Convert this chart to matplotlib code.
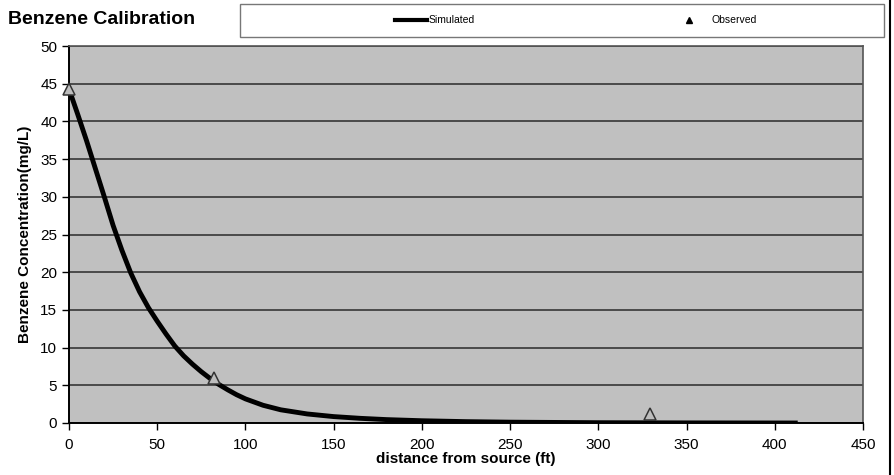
import matplotlib
matplotlib.use("Agg")
import matplotlib.pyplot as plt
from matplotlib.lines import Line2D
from matplotlib.patches import Rectangle

plt.rcParams['font.family'] = ['Liberation Sans', 'DejaVu Sans']

# Simulated benzene profile along the plume centreline
sim_distance = [0, 5, 10, 15, 20, 25, 30, 35, 40, 45, 50, 55, 60, 65, 70, 75, 80, 85, 90,
                95, 100, 110, 120, 135, 150, 165, 180, 200, 225, 250, 300, 350, 413]
sim_conc = [44.3, 40.9, 37.4, 33.7, 30.0, 26.2, 22.9, 19.9, 17.4, 15.3, 13.5, 11.8, 10.2,
            8.9, 7.8, 6.8, 5.9, 5.1, 4.4, 3.75, 3.2, 2.35, 1.75, 1.2, 0.85, 0.62, 0.45, 0.3,
            0.18, 0.11, 0.04, 0.015, 0.0]

# Observed well concentrations
obs_distance = [0, 82, 329]
obs_conc = [44.3, 6.0, 1.2]

x_ticks = [0, 50, 100, 150, 200, 250, 300, 350, 400, 450]
y_ticks = [0, 5, 10, 15, 20, 25, 30, 35, 40, 45, 50]

fig = plt.figure(figsize=(8.95, 4.75), dpi=100)
ax = fig.add_axes([69 / 895, 1 - 423 / 475, (863 - 69) / 895, (423 - 46) / 475])

ax.set_facecolor('#c0c0c0')
ax.set_xlim(0, 450)
ax.set_ylim(0, 50)
ax.set_xticks(x_ticks)
ax.set_yticks(y_ticks)
ax.yaxis.grid(True, color='#4a4a4a', linewidth=1.4)
ax.set_axisbelow(True)

for side in ['top', 'right']:
    ax.spines[side].set_color('#555555')
    ax.spines[side].set_linewidth(1.2)
for side in ['left', 'bottom']:
    ax.spines[side].set_color('black')
    ax.spines[side].set_linewidth(1.4)

ax.tick_params(axis='both', direction='out', length=5, width=1, labelsize=11, colors='black')
ax.tick_params(axis='x', pad=6)

ax.plot(sim_distance, sim_conc, color='black', linewidth=3.5, solid_capstyle='butt',
        solid_joinstyle='round', zorder=3)
ax.plot(obs_distance, obs_conc, linestyle='none', marker='^', markersize=8,
        markerfacecolor='#bdbdbd', markeredgecolor='#333333', markeredgewidth=1.1,
        zorder=4, clip_on=False)

ax.set_xlabel('distance from source (ft)', fontsize=11, fontweight='bold', labelpad=0)
ax.set_ylabel('Benzene Concentration(mg/L)', fontsize=11, fontweight='bold', labelpad=6)

fig.text(8 / 895, 1 - 19 / 475, 'Benzene Calibration', fontsize=14, fontweight='bold',
         ha='left', va='center')

# Legend frame and entries
fig.patches.append(Rectangle((240 / 895, 1 - 37 / 475), (884 - 240) / 895, 33 / 475,
                             transform=fig.transFigure, facecolor='white',
                             edgecolor='#777777', linewidth=1.0))
fig.lines.append(Line2D([395 / 895, 427 / 895], [1 - 20 / 475] * 2, transform=fig.transFigure,
                        color='black', linewidth=3))
fig.text(429 / 895, 1 - 20 / 475, 'Simulated', fontsize=7.5, ha='left', va='center')
fig.lines.append(Line2D([689 / 895], [1 - 20 / 475], transform=fig.transFigure, marker='^',
                        markersize=4.5, color='black', linestyle='none'))
fig.text(712 / 895, 1 - 20 / 475, 'Observed', fontsize=7.5, ha='left', va='center')

# Right frame line
fig.lines.append(Line2D([890 / 895] * 2, [0, 1], transform=fig.transFigure,
                        color='black', linewidth=1.5))

fig.savefig('out.png', dpi=100)
